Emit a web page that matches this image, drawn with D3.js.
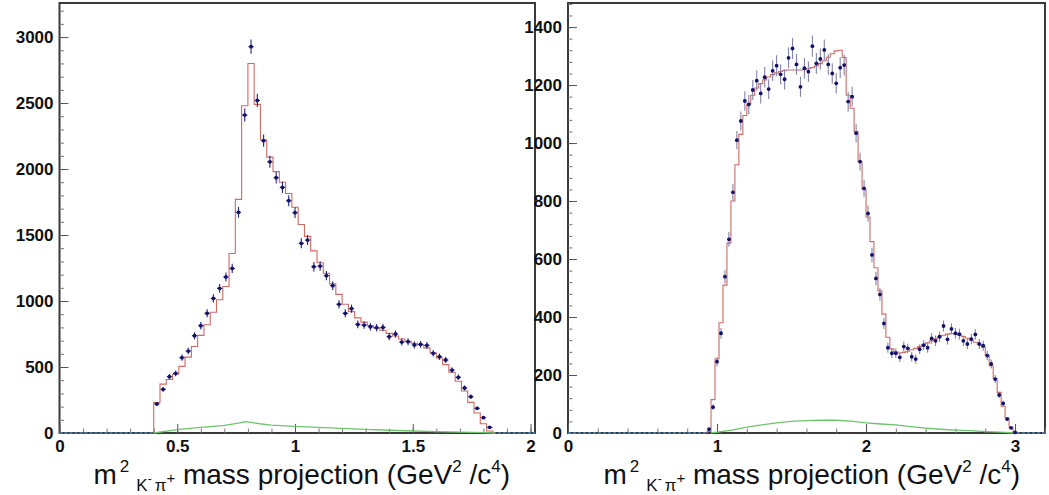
<!DOCTYPE html>
<html>
<head>
<meta charset="utf-8">
<script src="https://cdn.jsdelivr.net/npm/d3@7"></script>
<style>
  html, body { margin: 0; padding: 0; background: #fff; }
  svg { display: block; }
  .tick text { font-family: "Liberation Sans", Arial, sans-serif; font-weight: bold; font-size: 17px; fill: #111; }
  .title { font-family: "Liberation Sans", Arial, sans-serif; font-size: 28px; fill: #111; }
</style>
</head>
<body>
<svg id="chart" width="1049" height="495"></svg>
<script>
// Histogram binning shared by both projections
const binWidth = 2 / 75;

// Left projection: first filled bin index, measured counts and fitted model per bin
const leftFirstBin = 15;
const leftData = [220, 331, 427, 452, 571, 621, 737, 813, 907, 1020,
  1096, 1182, 1247, 1672, 2409, 2927, 2520, 2215, 2055, 1934,
  1861, 1760, 1669, 1437, 1462, 1260, 1265, 1192, 1116, 975,
  907, 942, 823, 818, 805, 798, 800, 730, 750, 689,
  692, 667, 672, 664, 604, 578, 553, 477, 422, 341,
  275, 187, 116, 43];
const leftFit = [230, 370, 405, 445, 505, 575, 655, 740, 820, 915,
  1010, 1110, 1360, 1770, 2480, 2800, 2490, 2220, 2090, 1980,
  1900, 1815, 1710, 1580, 1490, 1380, 1290, 1210, 1130, 1050,
  975, 920, 872, 840, 815, 795, 778, 755, 735, 712,
  695, 680, 668, 645, 608, 568, 518, 460, 392, 318,
  232, 152, 70, 15];
// Left background component (x, count)
const leftBkgX = [0.4, 0.5, 0.6, 0.7, 0.76, 0.79, 0.85, 0.9, 1.0, 1.1, 1.2, 1.3, 1.4, 1.5, 1.6, 1.7, 1.8, 1.85];
const leftBkgY = [0, 25, 42, 58, 75, 86, 70, 60, 50, 42, 35, 28, 21, 15, 10, 6, 3, 0];
const leftXTicks = [0, 0.5, 1, 1.5, 2];
const leftXTickLabels = ["0", "0.5", "1", "1.5", "2"];
const leftYTicks = [0, 500, 1000, 1500, 2000, 2500, 3000];

// Right projection
const rightFirstBin = 35;
const rightData = [13, 89, 246, 344, 539, 668, 830, 1010, 1076, 1145,
  1133, 1183, 1215, 1171, 1227, 1186, 1249, 1267, 1237, 1220,
  1294, 1326, 1271, 1194, 1258, 1246, 1334, 1275, 1290, 1321,
  1271, 1240, 1206, 1260, 1269, 1143, 1160, 1034, 936, 844,
  757, 614, 533, 478, 378, 294, 275, 275, 261, 298,
  292, 263, 255, 289, 303, 294, 326, 318, 332, 369,
  323, 359, 344, 341, 318, 307, 324, 340, 307, 301,
  267, 238, 186, 131, 102, 48, 18, 2];
const rightFit = [5, 115, 255, 380, 510, 655, 800, 925, 1030, 1095,
  1135, 1165, 1190, 1205, 1218, 1228, 1236, 1242, 1247, 1250,
  1252, 1252, 1252, 1252, 1253, 1256, 1260, 1266, 1274, 1284,
  1296, 1308, 1318, 1320, 1295, 1165, 1120, 1040, 935, 840,
  745, 660, 570, 490, 410, 330, 290, 280, 276, 278,
  282, 287, 292, 298, 304, 311, 318, 325, 332, 337,
  341, 343, 342, 338, 333, 327, 320, 313, 306, 296,
  268, 232, 188, 140, 92, 52, 18, 3];
const rightBkgX = [0.96, 1.1, 1.2, 1.3, 1.4, 1.5, 1.6, 1.7, 1.8, 1.9, 2.0, 2.1, 2.2, 2.3, 2.4, 2.5, 2.6, 2.7, 2.8, 2.9, 3.0];
const rightBkgY = [0, 10, 20, 28, 35, 40, 43, 44, 44, 41, 35, 31, 28, 22, 17, 13, 10, 8, 5, 3, 0];
const rightXTicks = [0, 1, 2, 3];
const rightXTickLabels = ["0", "1", "2", "3"];
const rightYTicks = [0, 200, 400, 600, 800, 1000, 1200, 1400];

const svg = d3.select("#chart");

const panels = [
  { left: 59.5, right: 535, top: 3, bottom: 433,
    xMax: 2.019, yMax: 3258, xMinorStep: 0.1, yMinorStep: 100,
    firstBin: leftFirstBin, data: leftData, fit: leftFit,
    bkgX: leftBkgX, bkgY: leftBkgY,
    xTicks: leftXTicks, xLabels: leftXTickLabels, yTicks: leftYTicks,
    errColor: "#24247c" },
  { left: 568, right: 1045, top: 3, bottom: 433,
    xMax: 3.201, yMax: 1483, xMinorStep: 0.2, yMinorStep: 40,
    firstBin: rightFirstBin, data: rightData, fit: rightFit,
    bkgX: rightBkgX, bkgY: rightBkgY,
    xTicks: rightXTicks, xLabels: rightXTickLabels, yTicks: rightYTicks,
    errColor: "#8484a8" }
];

panels.forEach(p => {
  const x = d3.scaleLinear().domain([0, p.xMax]).range([p.left, p.right]);
  const y = d3.scaleLinear().domain([0, p.yMax]).range([p.bottom, p.top]);
  const g = svg.append("g");

  // frame
  g.append("rect")
    .attr("x", p.left).attr("y", p.top)
    .attr("width", p.right - p.left).attr("height", p.bottom - p.top)
    .attr("fill", "none").attr("stroke", "#3a3a3a").attr("stroke-width", 2);

  // minor ticks
  const xMinor = d3.range(0, p.xMax + 1e-9, p.xMinorStep);
  const yMinor = d3.range(0, p.yMax + 1e-9, p.yMinorStep);
  g.append("g").attr("transform", `translate(0,${p.bottom})`)
    .call(d3.axisBottom(x).tickValues(xMinor).tickSize(-4.5).tickFormat(""))
    .call(s => s.select(".domain").remove())
    .selectAll("line").attr("stroke", "#777");
  g.append("g").attr("transform", `translate(${p.left},0)`)
    .call(d3.axisLeft(y).tickValues(yMinor).tickSize(-4.5).tickFormat(""))
    .call(s => s.select(".domain").remove())
    .selectAll("line").attr("stroke", "#777");

  // major ticks with labels
  const xa = g.append("g").attr("transform", `translate(0,${p.bottom})`)
    .call(d3.axisBottom(x).tickValues(p.xTicks).tickSize(-9)
      .tickFormat((d, i) => p.xLabels[i]).tickPadding(7));
  xa.select(".domain").remove();
  xa.selectAll("line").attr("stroke", "#555");
  const ya = g.append("g").attr("transform", `translate(${p.left},0)`)
    .call(d3.axisLeft(y).tickValues(p.yTicks).tickSize(-9).tickPadding(6)
      .tickFormat(d3.format("d")));
  ya.select(".domain").remove();
  ya.selectAll("line").attr("stroke", "#555");

  // bin edges
  const edge = k => (p.firstBin + k) * binWidth;
  const n = p.data.length;
  const lastEdge = edge(n);

  // empty component drawn dashed along zero outside the filled range
  [[0, edge(0)], [lastEdge, p.xMax]].forEach(([a, b]) => {
    g.append("line")
      .attr("x1", x(a)).attr("x2", x(b)).attr("y1", y(0)).attr("y2", y(0))
      .attr("stroke", "#4a86c0").attr("stroke-width", 1.3)
      .attr("stroke-dasharray", "3,2");
  });

  // background component
  const bkg = p.bkgX.map((v, i) => [v, p.bkgY[i]]);
  g.append("path")
    .attr("d", d3.line().x(d => x(d[0])).y(d => y(d[1]))(bkg))
    .attr("fill", "none").attr("stroke", "#6cc46c").attr("stroke-width", 1.3);

  // fitted model as a step histogram
  const stepPts = [[edge(0), 0]];
  p.fit.forEach((v, k) => stepPts.push([edge(k), v]));
  stepPts.push([edge(p.fit.length), 0]);
  g.append("path")
    .attr("d", d3.line().curve(d3.curveStepAfter).x(d => x(d[0])).y(d => y(d[1]))(stepPts))
    .attr("fill", "none").attr("stroke", "#cf6a64").attr("stroke-width", 1.1);

  // data points with Poisson error bars
  const pts = p.data.map((v, k) => ({ lo: edge(k), hi: edge(k + 1), c: (edge(k) + edge(k + 1)) / 2, v }));
  const dg = g.append("g");
  dg.selectAll("line.ev").data(pts).join("line").attr("class", "ev")
    .attr("x1", d => x(d.c)).attr("x2", d => x(d.c))
    .attr("y1", d => y(d.v + Math.sqrt(d.v))).attr("y2", d => y(Math.max(0, d.v - Math.sqrt(d.v))))
    .attr("stroke", p.errColor).attr("stroke-width", 1.1);
  dg.selectAll("line.eh").data(pts).join("line").attr("class", "eh")
    .attr("x1", d => x(d.lo) + 0.5).attr("x2", d => x(d.hi) - 0.5)
    .attr("y1", d => y(d.v)).attr("y2", d => y(d.v))
    .attr("stroke", p.errColor).attr("stroke-width", 1.1);
  dg.selectAll("circle").data(pts).join("circle")
    .attr("cx", d => x(d.c)).attr("cy", d => y(d.v)).attr("r", 1.9)
    .attr("fill", "#12126a");

  // axis title
  const t = svg.append("text").attr("class", "title")
    .attr("x", p.right - 25).attr("y", 484).attr("text-anchor", "end");
  t.append("tspan").text("m");
  t.append("tspan").attr("font-size", 17).attr("dy", -12).attr("dx", 3).text("2");
  t.append("tspan").attr("font-size", 17).attr("dy", 19).attr("dx", 7).text("K");
  t.append("tspan").attr("font-size", 12).attr("dy", -8).text("-");
  t.append("tspan").attr("font-size", 17).attr("dy", 8).attr("dx", 3).text("π");
  t.append("tspan").attr("font-size", 15).attr("dy", -8).text("+");
  t.append("tspan").attr("dy", 1).text(" mass projection (GeV");
  t.append("tspan").attr("font-size", 17).attr("dy", -12).text("2");
  t.append("tspan").attr("dy", 12).text(" /c");
  t.append("tspan").attr("font-size", 17).attr("dy", -12).text("4");
  t.append("tspan").attr("dy", 12).text(")");
});
</script>
</body>
</html>
